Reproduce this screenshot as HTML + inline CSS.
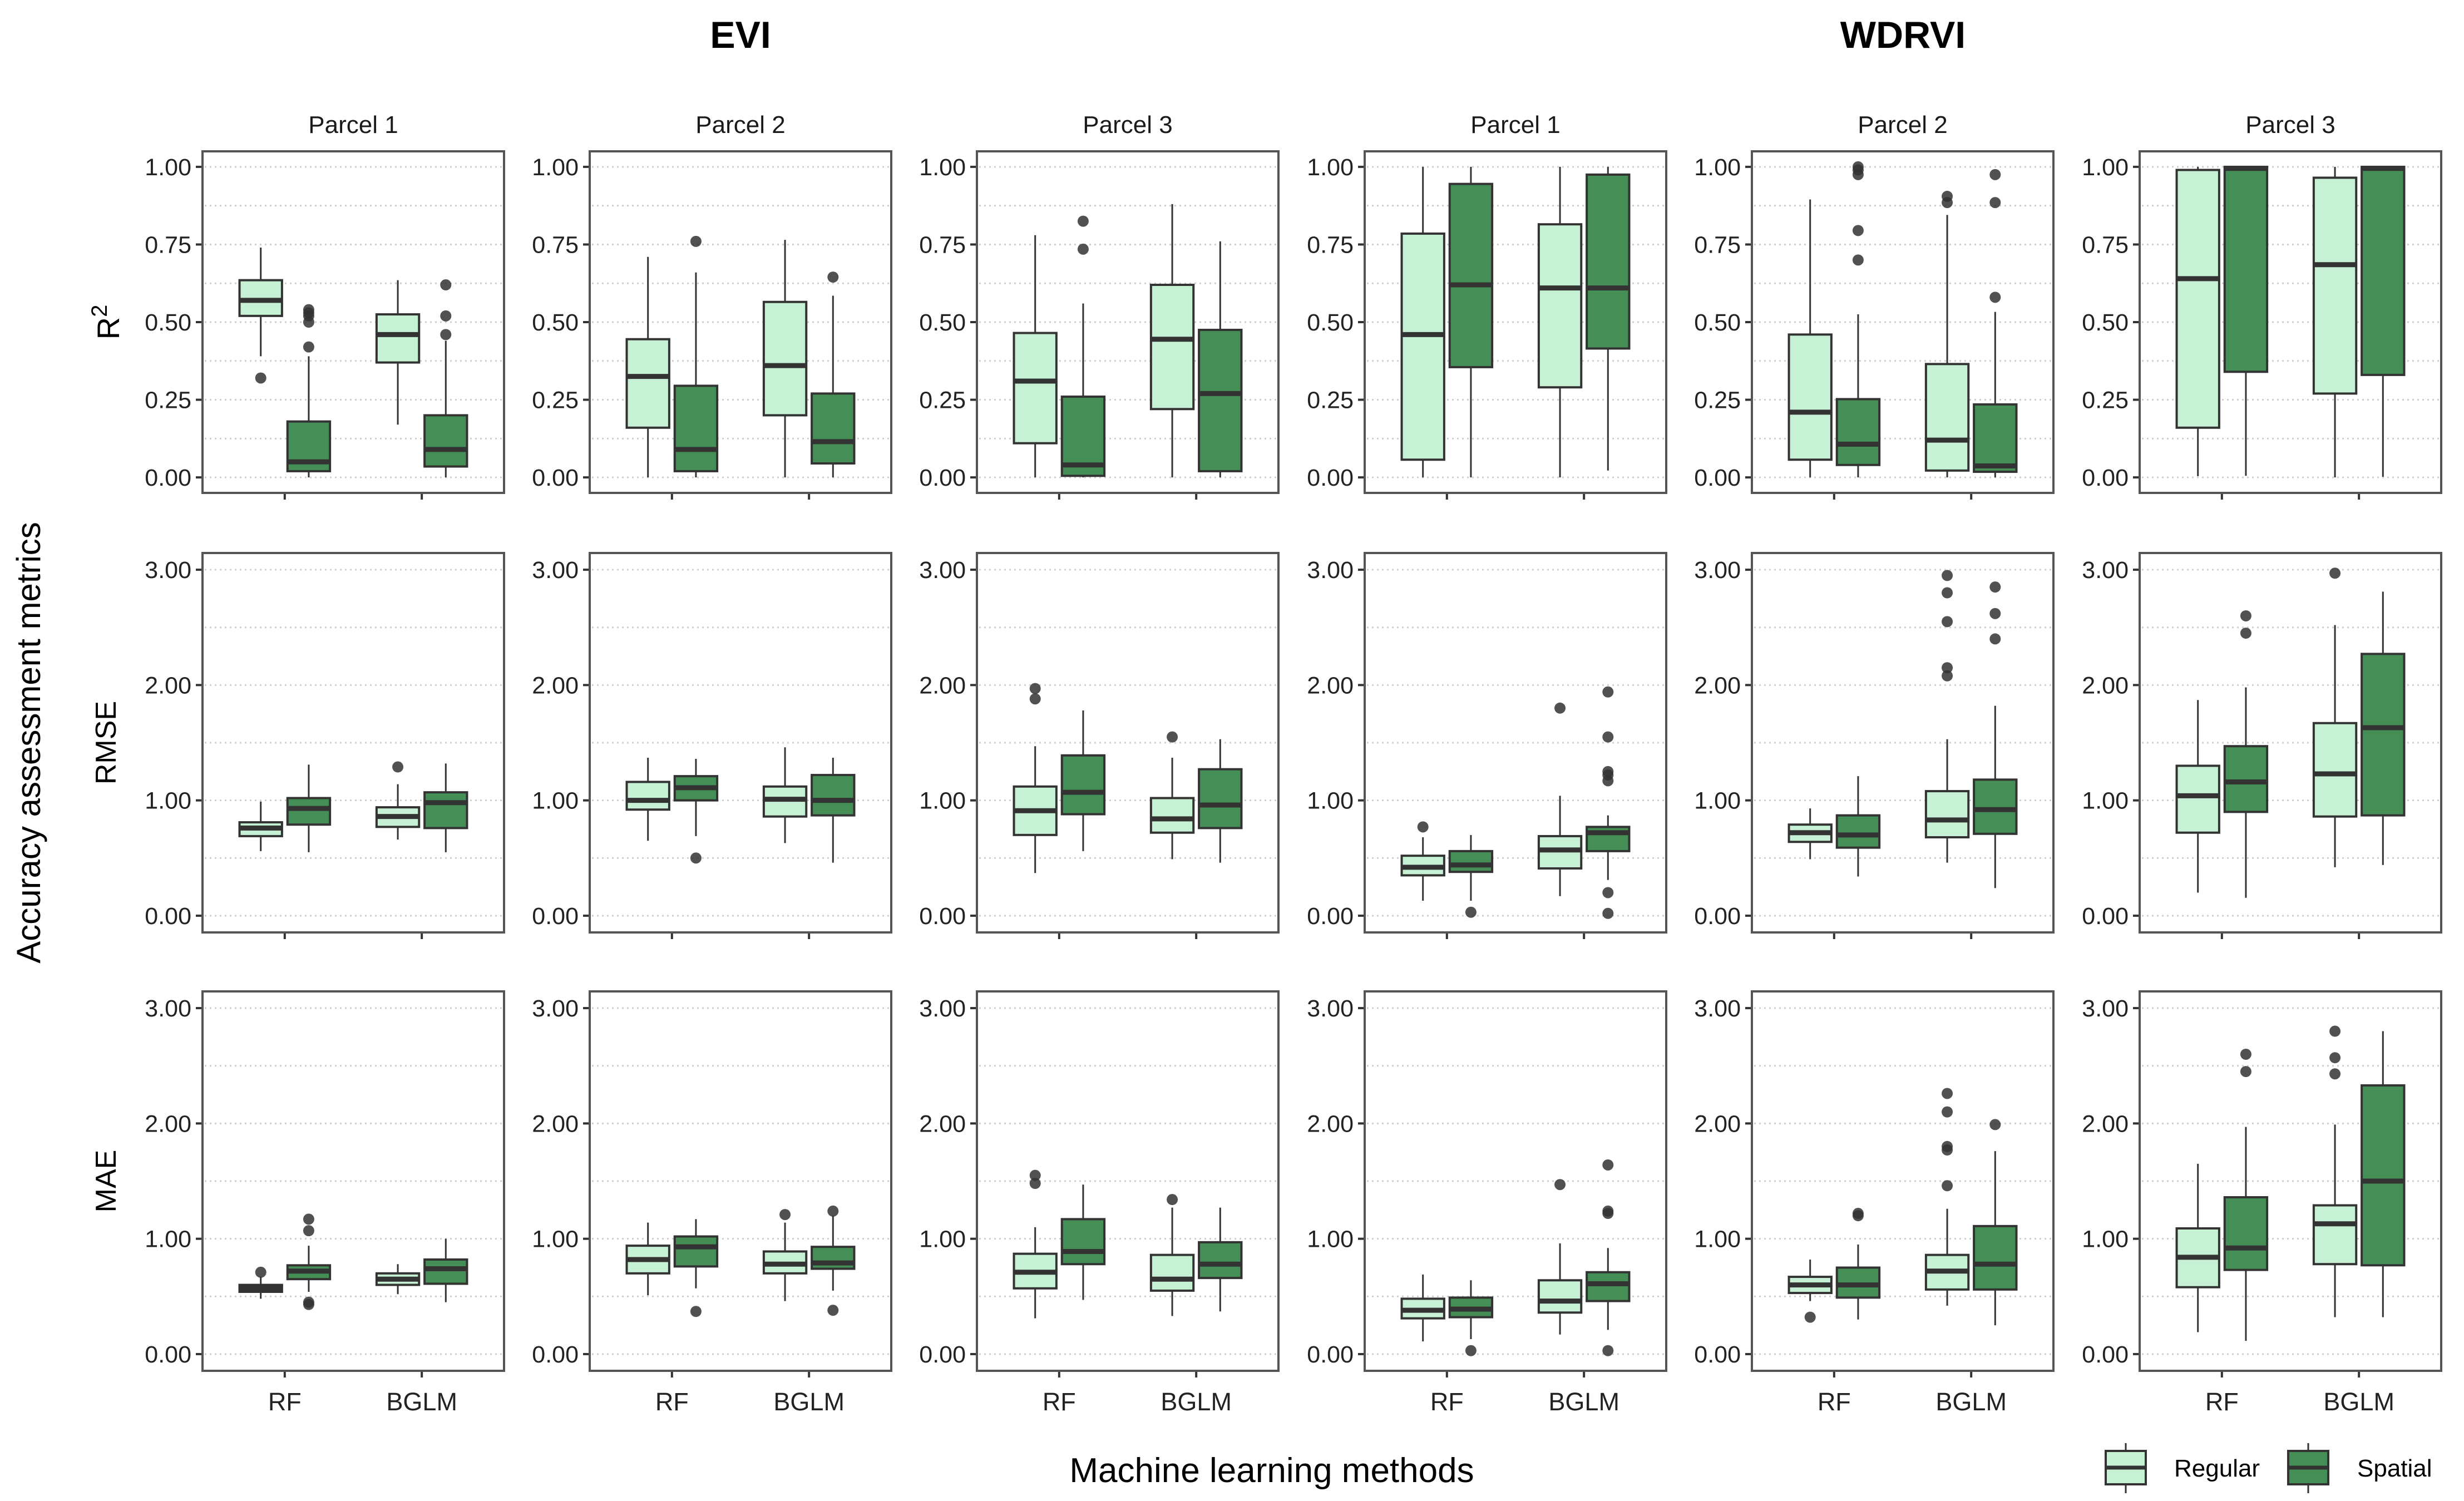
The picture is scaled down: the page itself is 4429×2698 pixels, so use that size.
<!DOCTYPE html>
<html><head><meta charset="utf-8"><style>
html,body{margin:0;padding:0;background:#fff;}
svg{display:block;font-family:"Liberation Sans",Arial,sans-serif;}
</style></head><body>
<svg id="chart" width="4429" height="2698" viewBox="0 0 4429 2698" xmlns="http://www.w3.org/2000/svg"></svg>
<script>
// ---- data ----
const indices = ["EVI", "WDRVI"];
const parcels = ["Parcel 1", "Parcel 2", "Parcel 3"];
const metrics = ["R2", "RMSE", "MAE"];
const methods = ["RF", "BGLM"];
const groups = ["Regular", "Spatial"];
const r2Ticks = ["0.00", "0.25", "0.50", "0.75", "1.00"];
const errTicks = ["0.00", "1.00", "2.00", "3.00"];
// each box: [lowWhisker, q1, median, q3, highWhisker, ...outliers]
// order per panel: RF-Regular, RF-Spatial, BGLM-Regular, BGLM-Spatial
const r2Data = [
 [[0.39,0.52,0.57,0.635,0.74,0.32],[0,0.02,0.05,0.18,0.39,0.42,0.50,0.52,0.53,0.54],[0.17,0.37,0.46,0.525,0.635],[0,0.035,0.09,0.2,0.44,0.46,0.52,0.62]],
 [[0,0.16,0.325,0.445,0.71],[0,0.02,0.09,0.295,0.66,0.76],[0,0.2,0.36,0.565,0.765],[0,0.045,0.115,0.27,0.585,0.645]],
 [[0,0.11,0.31,0.465,0.78],[0,0.005,0.04,0.26,0.56,0.735,0.825],[0,0.22,0.445,0.62,0.88],[0,0.02,0.27,0.475,0.76]],
 [[0,0.057,0.46,0.785,1.0],[0,0.355,0.62,0.945,1.0],[0,0.29,0.61,0.815,1.0],[0.022,0.415,0.61,0.975,1.0]],
 [[0,0.057,0.21,0.46,0.895],[0,0.04,0.107,0.252,0.525,0.70,0.795,0.975,0.99,1.0],[0,0.022,0.12,0.365,0.845,0.885,0.905],[0,0.018,0.037,0.235,0.533,0.58,0.885,0.975]],
 [[0.004,0.16,0.64,0.99,1.0],[0.005,0.34,0.995,1.0,1.0],[0,0.27,0.685,0.965,1.0],[0.002,0.33,0.995,1.0,1.0]]
];
const rmseData = [
 [[0.56,0.69,0.76,0.81,0.99],[0.55,0.79,0.93,1.02,1.31],[0.66,0.77,0.86,0.94,1.14,1.29],[0.55,0.76,0.98,1.07,1.32]],
 [[0.65,0.92,1.0,1.16,1.37],[0.69,1.0,1.11,1.21,1.36,0.5],[0.63,0.86,1.01,1.12,1.46],[0.46,0.87,1.0,1.22,1.37]],
 [[0.37,0.70,0.91,1.12,1.47,1.88,1.97],[0.56,0.88,1.07,1.39,1.78],[0.49,0.72,0.84,1.02,1.37,1.55],[0.46,0.76,0.96,1.27,1.53]],
 [[0.13,0.35,0.42,0.52,0.68,0.77],[0.13,0.38,0.44,0.56,0.70,0.03],[0.17,0.41,0.57,0.69,1.04,1.80],[0.31,0.56,0.72,0.77,0.87,1.17,1.22,1.25,1.55,1.94,0.2,0.02]],
 [[0.49,0.64,0.72,0.79,0.93],[0.34,0.59,0.70,0.87,1.21],[0.46,0.68,0.83,1.08,1.53,2.08,2.15,2.55,2.80,2.95],[0.24,0.71,0.92,1.18,1.82,2.40,2.62,2.85]],
 [[0.20,0.72,1.04,1.30,1.87],[0.155,0.90,1.16,1.47,1.98,2.45,2.60],[0.42,0.86,1.23,1.67,2.52,2.97],[0.44,0.87,1.63,2.27,2.81]]
];
const maeData = [
 [[0.48,0.54,0.57,0.60,0.67,0.71],[0.54,0.65,0.72,0.77,0.94,0.43,0.45,1.07,1.17],[0.52,0.60,0.65,0.70,0.78],[0.45,0.61,0.74,0.82,1.0]],
 [[0.51,0.70,0.82,0.94,1.14],[0.57,0.76,0.93,1.02,1.17,0.37],[0.46,0.70,0.78,0.89,1.14,1.21],[0.55,0.74,0.79,0.93,1.20,1.24,0.38]],
 [[0.31,0.57,0.71,0.87,1.10,1.48,1.55],[0.47,0.78,0.89,1.17,1.47],[0.33,0.55,0.65,0.86,1.27,1.34],[0.37,0.66,0.78,0.97,1.27]],
 [[0.11,0.31,0.38,0.48,0.69],[0.13,0.32,0.39,0.49,0.64,0.03],[0.17,0.36,0.46,0.64,0.96,1.47],[0.21,0.46,0.61,0.71,0.92,1.22,1.24,1.64,0.03]],
 [[0.46,0.53,0.60,0.67,0.82,0.32],[0.30,0.49,0.60,0.75,0.95,1.20,1.22],[0.42,0.56,0.72,0.86,1.26,1.46,1.77,1.80,2.10,2.26],[0.25,0.56,0.78,1.11,1.76,1.99]],
 [[0.19,0.58,0.84,1.09,1.65],[0.115,0.73,0.92,1.36,1.97,2.45,2.60],[0.32,0.78,1.13,1.29,1.99,2.43,2.57,2.80],[0.32,0.77,1.50,2.33,2.80]]
];
const allData = [r2Data, rmseData, maeData];

// ---- layout ----
const NS = "http://www.w3.org/2000/svg";
const svg = document.getElementById("chart");
const colLeft = [364, 1060, 1756, 2453, 3149, 3846];
const panelW = 542;
const rowTop = [272, 994, 1782];
const rowBot = [886, 1676, 2464];
const rowMin = [-0.05, -0.145, -0.145];
const rowMax = [1.05, 3.145, 3.145];
const REG = "#c6f1d5", SPA = "#458e56", LINE = "#333333";

function mk(tag, attrs, parent) {
  const e = document.createElementNS(NS, tag);
  for (const k in attrs) e.setAttribute(k, attrs[k]);
  (parent || svg).appendChild(e);
  return e;
}
function yScale(r, v) { return rowBot[r] - (v - rowMin[r]) / (rowMax[r] - rowMin[r]) * (rowBot[r] - rowTop[r]); }
function xScale(c, u) { return colLeft[c] + (u - 0.4) / 2.2 * panelW; }

indices.forEach((t, i) => {
  const cx = (colLeft[i*3] + colLeft[i*3+2] + panelW) / 2;
  const el = mk("text", {x: cx, y: 86, "text-anchor": "middle", "font-size": 68, "font-weight": "bold", fill: "#000"});
  el.textContent = t;
  
  
});
for (let c = 0; c < 6; c++) {
  const el = mk("text", {x: colLeft[c] + panelW/2, y: 239, "text-anchor": "middle", "font-size": 44, fill: "#1a1a1a"});
  el.textContent = parcels[c % 3];
  
  
}

for (let r = 0; r < 3; r++) {
  const ticks = r === 0 ? r2Ticks : errTicks;
  const minorStep = r === 0 ? 0.125 : 0.5;
  const maxV = r === 0 ? 1.0 : 3.0;
  for (let c = 0; c < 6; c++) {
    const g = mk("g", {});
    
    
    for (let v = 0; v <= maxV + 1e-9; v += minorStep) {
      const y = yScale(r, v);
      const gl = mk("line", {x1: colLeft[c]+4, x2: colLeft[c]+panelW-4, y1: y, y2: y, stroke: "#cfcfcf", "stroke-width": 3, "stroke-dasharray": "3 6"}, g);
      
      
    }
    ticks.forEach(t => {
      const y = yScale(r, parseFloat(t));
      mk("line", {x1: colLeft[c]-12, x2: colLeft[c], y1: y, y2: y, stroke: "#333", "stroke-width": 4}, g);
      const tl = mk("text", {x: colLeft[c]-20, y: y + 15, "text-anchor": "end", "font-size": 43, fill: "#222"}, g);
      tl.textContent = t;
      
      
    });
    methods.forEach((m, mi) => {
      const x = xScale(c, mi + 1);
      mk("line", {x1: x, x2: x, y1: rowBot[r], y2: rowBot[r]+12, stroke: "#333", "stroke-width": 4}, g);
      if (r === 2) {
        const xl = mk("text", {x: x, y: 2535, "text-anchor": "middle", "font-size": 45, fill: "#222"}, g);
        xl.textContent = m;
        
        
      }
    });
    const pd = allData[r][c];
    pd.forEach((d, bi) => {
      const mi = Math.floor(bi / 2), gi = bi % 2;
      const cx = xScale(c, mi + 1 + (gi === 0 ? -0.175 : 0.175));
      const hw = xScale(c, 0.4 + 0.155) - xScale(c, 0.4);
      const bg = mk("g", {}, g);
      
      
      mk("line", {x1: cx, x2: cx, y1: yScale(r, d[0]), y2: yScale(r, d[4]), stroke: LINE, "stroke-width": 3}, bg);
      mk("rect", {x: cx-hw, y: yScale(r, d[3]), width: 2*hw, height: Math.max(1, yScale(r, d[1]) - yScale(r, d[3])), fill: gi === 0 ? REG : SPA, stroke: LINE, "stroke-width": 4}, bg);
      mk("line", {x1: cx-hw, x2: cx+hw, y1: yScale(r, d[2]), y2: yScale(r, d[2]), stroke: LINE, "stroke-width": 9}, bg);
      for (let k = 5; k < d.length; k++) {
        const o = mk("circle", {cx: cx, cy: yScale(r, d[k]), r: 10, fill: "#333", "fill-opacity": 0.85}, bg);
        
        
      }
    });
    mk("rect", {x: colLeft[c], y: rowTop[r], width: panelW, height: rowBot[r]-rowTop[r], fill: "none", stroke: "#555", "stroke-width": 4}, g);
  }
}

const r2t = mk("text", {x: 0, y: 0, "text-anchor": "middle", "font-size": 56, fill: "#000", transform: "translate(214,579) rotate(-90)"});
r2t.innerHTML = 'R<tspan dy="-22" font-size="40">2</tspan>';


[["RMSE", 1335], ["MAE", 2123]].forEach(([t, y]) => {
  const el = mk("text", {x: 0, y: 0, "text-anchor": "middle", "font-size": 52, fill: "#000", transform: "translate(208," + y + ") rotate(-90)"});
  el.textContent = t;
  
  
});
const yt = mk("text", {x: 0, y: 0, "text-anchor": "middle", "font-size": 60, fill: "#000", transform: "translate(72,1335) rotate(-90)"});
yt.textContent = "Accuracy assessment metrics";


const xt = mk("text", {x: 2286, y: 2664, "text-anchor": "middle", "font-size": 62, fill: "#000"});
xt.textContent = "Machine learning methods";



const legX = [3785, 4113], legTX = [3908, 4237];
groups.forEach((gname, i) => {
  const lg = mk("g", {});
  
  
  const cx = legX[i] + 36;
  mk("line", {x1: cx, x2: cx, y1: 2594, y2: 2684, stroke: LINE, "stroke-width": 3}, lg);
  mk("rect", {x: legX[i], y: 2608, width: 72, height: 60, fill: i === 0 ? REG : SPA, stroke: LINE, "stroke-width": 4}, lg);
  mk("line", {x1: legX[i], x2: legX[i]+72, y1: 2638, y2: 2638, stroke: LINE, "stroke-width": 7}, lg);
  const t = mk("text", {x: legTX[i], y: 2654, "font-size": 44, fill: "#000"}, lg);
  t.textContent = gname;
});
</script>
</body></html>
